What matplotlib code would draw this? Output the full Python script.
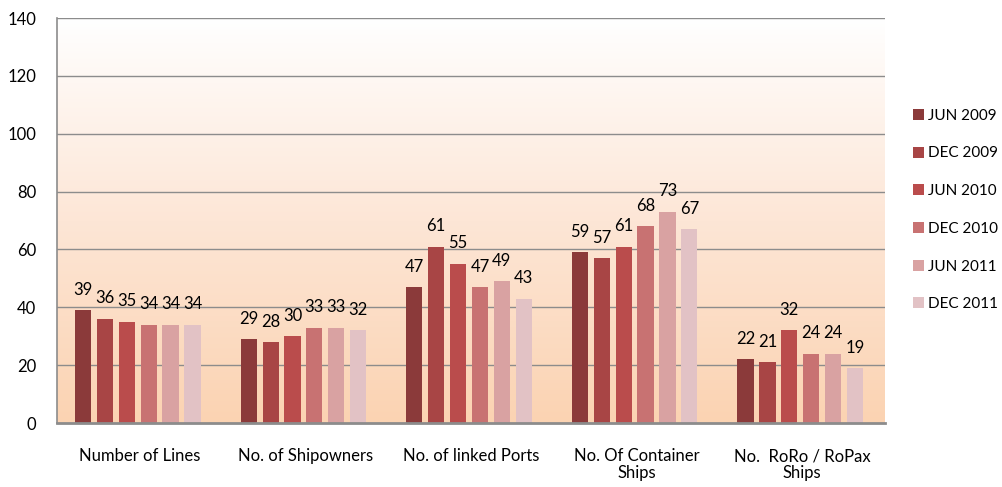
import matplotlib
matplotlib.use("Agg")
import matplotlib.pyplot as plt
import numpy as np
from matplotlib.colors import LinearSegmentedColormap
from matplotlib.patches import Patch

categories = ["Number of Lines", "No. of Shipowners", "No. of linked Ports",
              "No. Of Container\nShips", "No.  RoRo / RoPax\nShips"]
series_names = ["JUN 2009", "DEC 2009", "JUN 2010", "DEC 2010", "JUN 2011", "DEC 2011"]
values = {
    "JUN 2009": [39, 29, 47, 59, 22],
    "DEC 2009": [36, 28, 61, 57, 21],
    "JUN 2010": [35, 30, 55, 61, 32],
    "DEC 2010": [34, 33, 47, 68, 24],
    "JUN 2011": [34, 33, 49, 73, 24],
    "DEC 2011": [34, 32, 43, 67, 19],
}
colors = ["#8B3A3A", "#A84545", "#BA4C4C", "#C87272", "#D9A2A2", "#E2C2C5"]
yticks = [0, 20, 40, 60, 80, 100, 120, 140]

plt.rcParams['font.family'] = ['Lato', 'DejaVu Sans']
fig = plt.figure(figsize=(10.03, 4.87), dpi=100)
ax = fig.add_axes([57/1003, 1 - 423/487, (885-57)/1003, (423-18)/487])

n = len(categories)
ax.set_xlim(-0.5, n - 0.5)
ax.set_ylim(0, 140)

# gradient background
cmap = LinearSegmentedColormap.from_list("bg", ["#FBD3B2", "#FDE6D6", "#FFFFFF"])
grad = np.linspace(0, 1, 256).reshape(-1, 1)
ax.imshow(grad, cmap=cmap, aspect='auto', extent=[-0.5, n - 0.5, 0, 140],
          origin='lower', zorder=0)

for y in yticks[1:]:
    ax.axhline(y, color="#8C8C8C", lw=1.0, zorder=1)

x = np.arange(n)
stride = 0.132
width = 0.098
for i, s in enumerate(series_names):
    off = (i - 2.5) * stride - 0.012
    ax.bar(x + off, values[s], width=width, color=colors[i], zorder=2, label=s)
    for xi, v in zip(x + off, values[s]):
        ax.text(xi, v + 4.3, str(v), ha='center', va='bottom', fontsize=12, zorder=3)

ax.set_yticks(yticks)
ax.set_yticklabels([str(t) for t in yticks], fontsize=12)
ax.set_xticks(x)
ax.set_xticklabels(categories, fontsize=12, linespacing=1.1)
ax.tick_params(axis='both', length=0)
ax.tick_params(axis='x', pad=18)
ax.tick_params(axis='y', pad=15)

for side in ['top', 'right']:
    ax.spines[side].set_visible(False)
ax.spines['left'].set_color("#8C8C8C")
ax.spines['left'].set_linewidth(1.2)
ax.spines['bottom'].set_color("#8C8C8C")
ax.spines['bottom'].set_linewidth(2.0)

handles = [Patch(facecolor=c, label=s) for c, s in zip(colors, series_names)]
fig.legend(handles=handles, loc='center left', bbox_to_anchor=(899/1003, 1 - 210/487),
           frameon=False, fontsize=11, handlelength=0.72, handleheight=0.72,
           handletextpad=0.3, labelspacing=1.55)

fig.savefig("out.png", dpi=100)
